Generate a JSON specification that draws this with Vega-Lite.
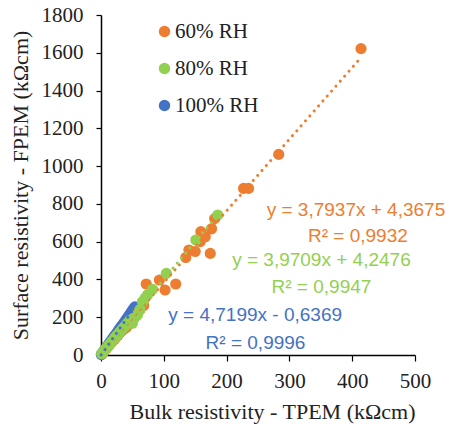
{
  "$schema": "https://vega.github.io/schema/vega-lite/v6.json",
  "width": 314,
  "height": 340,
  "autosize": {"type": "none"},
  "padding": {"left": 101, "top": 15, "right": 37, "bottom": 69},
  "background": "white",
  "config": {"view": {"stroke": null}, "axis": {"labelFont": "Liberation Serif", "titleFont": "Liberation Serif"}},
  "datasets": {
    "points": [
      {"series": "60% RH", "x": 2, "y": 9}, {"series": "60% RH", "x": 4, "y": 17}, {"series": "60% RH", "x": 6, "y": 26},
      {"series": "60% RH", "x": 9, "y": 36}, {"series": "60% RH", "x": 12, "y": 48}, {"series": "60% RH", "x": 15, "y": 60},
      {"series": "60% RH", "x": 18, "y": 72}, {"series": "60% RH", "x": 21, "y": 82}, {"series": "60% RH", "x": 24, "y": 95},
      {"series": "60% RH", "x": 27, "y": 104}, {"series": "60% RH", "x": 30, "y": 118}, {"series": "60% RH", "x": 33, "y": 128},
      {"series": "60% RH", "x": 36, "y": 136}, {"series": "60% RH", "x": 40, "y": 145}, {"series": "60% RH", "x": 43, "y": 158},
      {"series": "60% RH", "x": 47, "y": 172}, {"series": "60% RH", "x": 52, "y": 195}, {"series": "60% RH", "x": 57, "y": 215},
      {"series": "60% RH", "x": 62, "y": 240}, {"series": "60% RH", "x": 68, "y": 262}, {"series": "60% RH", "x": 72, "y": 376},
      {"series": "60% RH", "x": 93, "y": 397}, {"series": "60% RH", "x": 102, "y": 344}, {"series": "60% RH", "x": 119, "y": 376},
      {"series": "60% RH", "x": 135, "y": 516}, {"series": "60% RH", "x": 140, "y": 556}, {"series": "60% RH", "x": 150, "y": 548},
      {"series": "60% RH", "x": 158, "y": 600}, {"series": "60% RH", "x": 159, "y": 653}, {"series": "60% RH", "x": 166, "y": 626},
      {"series": "60% RH", "x": 176, "y": 668}, {"series": "60% RH", "x": 181, "y": 722}, {"series": "60% RH", "x": 174, "y": 538},
      {"series": "60% RH", "x": 227, "y": 882}, {"series": "60% RH", "x": 235, "y": 882}, {"series": "60% RH", "x": 283, "y": 1062},
      {"series": "60% RH", "x": 414, "y": 1622},
      {"series": "80% RH", "x": 1, "y": 6}, {"series": "80% RH", "x": 3, "y": 14}, {"series": "80% RH", "x": 5, "y": 24},
      {"series": "80% RH", "x": 8, "y": 34}, {"series": "80% RH", "x": 11, "y": 46}, {"series": "80% RH", "x": 14, "y": 58},
      {"series": "80% RH", "x": 18, "y": 74}, {"series": "80% RH", "x": 22, "y": 92}, {"series": "80% RH", "x": 26, "y": 106},
      {"series": "80% RH", "x": 30, "y": 122}, {"series": "80% RH", "x": 34, "y": 138}, {"series": "80% RH", "x": 38, "y": 152},
      {"series": "80% RH", "x": 42, "y": 168}, {"series": "80% RH", "x": 46, "y": 184}, {"series": "80% RH", "x": 50, "y": 168},
      {"series": "80% RH", "x": 54, "y": 200}, {"series": "80% RH", "x": 58, "y": 212}, {"series": "80% RH", "x": 62, "y": 240},
      {"series": "80% RH", "x": 66, "y": 282}, {"series": "80% RH", "x": 70, "y": 300}, {"series": "80% RH", "x": 74, "y": 318},
      {"series": "80% RH", "x": 82, "y": 348}, {"series": "80% RH", "x": 104, "y": 432}, {"series": "80% RH", "x": 151, "y": 609},
      {"series": "80% RH", "x": 186, "y": 741},
      {"series": "100% RH", "x": 0.5, "y": 2}, {"series": "100% RH", "x": 1, "y": 4}, {"series": "100% RH", "x": 2, "y": 9},
      {"series": "100% RH", "x": 3, "y": 13}, {"series": "100% RH", "x": 4, "y": 18}, {"series": "100% RH", "x": 5, "y": 22},
      {"series": "100% RH", "x": 6, "y": 28}, {"series": "100% RH", "x": 8, "y": 37}, {"series": "100% RH", "x": 10, "y": 47},
      {"series": "100% RH", "x": 12, "y": 56}, {"series": "100% RH", "x": 14, "y": 65}, {"series": "100% RH", "x": 16, "y": 75},
      {"series": "100% RH", "x": 18, "y": 84}, {"series": "100% RH", "x": 20, "y": 94}, {"series": "100% RH", "x": 22, "y": 103},
      {"series": "100% RH", "x": 25, "y": 117}, {"series": "100% RH", "x": 28, "y": 131}, {"series": "100% RH", "x": 30, "y": 141},
      {"series": "100% RH", "x": 33, "y": 155}, {"series": "100% RH", "x": 36, "y": 168}, {"series": "100% RH", "x": 39, "y": 183},
      {"series": "100% RH", "x": 42, "y": 197}, {"series": "100% RH", "x": 45, "y": 212}, {"series": "100% RH", "x": 48, "y": 226},
      {"series": "100% RH", "x": 50, "y": 236}, {"series": "100% RH", "x": 52, "y": 245}, {"series": "100% RH", "x": 54, "y": 255}
    ],
    "trends": [
      {"series": "60% RH", "x": 0, "y": 4.37}, {"series": "60% RH", "x": 414, "y": 1575},
      {"series": "80% RH", "x": 0, "y": 4.25}, {"series": "80% RH", "x": 186, "y": 742.8},
      {"series": "100% RH", "x": 0.2, "y": 0.3}, {"series": "100% RH", "x": 54, "y": 254.2}
    ],
    "labels": [
      {"series": "60% RH", "x": 406, "y": 768, "text": "y = 3,7937x + 4,3675"},
      {"series": "60% RH", "x": 409, "y": 630, "text": "R² = 0,9932"},
      {"series": "80% RH", "x": 351, "y": 503, "text": "y = 3,9709x + 4,2476"},
      {"series": "80% RH", "x": 351, "y": 358, "text": "R² = 0,9947"},
      {"series": "100% RH", "x": 245.5, "y": 212, "text": "y = 4,7199x - 0,6369"},
      {"series": "100% RH", "x": 246, "y": 65, "text": "R² = 0,9996"}
    ]
  },
  "encoding": {
    "x": {
      "field": "x", "type": "quantitative",
      "scale": {"domain": [0, 500], "nice": false, "zero": false},
      "axis": {
        "title": "Bulk resistivity - TPEM (kΩcm)",
        "values": [0, 100, 200, 300, 400, 500], "format": "d",
        "grid": false, "domainColor": "black", "domainWidth": 1.5,
        "tickColor": "black", "tickSize": 6, "tickWidth": 1.2,
        "labelFont": "Liberation Serif", "labelFontSize": 21, "labelColor": "#222222",
        "labelPadding": 9, "labelFlush": false, "labelOverlap": false,
        "titleFont": "Liberation Serif", "titleFontSize": 22, "titleFontWeight": "normal", "titleColor": "#222222",
        "titleX": 171, "titleY": 63, "titleBaseline": "alphabetic", "titleAlign": "center"
      }
    },
    "y": {
      "field": "y", "type": "quantitative",
      "scale": {"domain": [0, 1800], "nice": false, "zero": false},
      "axis": {
        "title": "Surface resistivity - FPEM (kΩcm)",
        "values": [0, 200, 400, 600, 800, 1000, 1200, 1400, 1600, 1800], "format": "d",
        "grid": false, "domainColor": "black", "domainWidth": 1.5,
        "tickColor": "black", "tickSize": 5, "tickWidth": 1.2,
        "labelFont": "Liberation Serif", "labelFontSize": 21, "labelColor": "#222222",
        "labelPadding": 13, "labelFlush": false, "labelOverlap": false,
        "titleFont": "Liberation Serif", "titleFontSize": 22, "titleFontWeight": "normal", "titleColor": "#222222",
        "titleAngle": 270, "titleX": -81, "titleY": 170, "titleBaseline": "middle", "titleAlign": "center"
      }
    },
    "color": {
      "field": "series", "type": "nominal",
      "scale": {"domain": ["60% RH", "80% RH", "100% RH"], "range": ["#ED7D31", "#92D050", "#4472C4"]}
    }
  },
  "layer": [
    {
      "data": {"name": "points"},
      "mark": {"type": "point", "shape": "circle", "filled": true, "opacity": 1, "size": 125},
      "encoding": {
        "color": {
          "field": "series", "type": "nominal",
          "scale": {"domain": ["60% RH", "80% RH", "100% RH"], "range": ["#ED7D31", "#92D050", "#4472C4"]},
          "legend": {
            "title": null, "orient": "none", "legendX": 53, "legendY": 6,
            "labelFont": "Liberation Serif", "labelFontSize": 21, "labelColor": "#222222",
            "symbolType": "circle", "symbolSize": 130, "symbolStrokeWidth": 0,
            "rowPadding": 15, "labelOffset": 0, "padding": 0
          }
        },
        "order": {"field": "series", "sort": "ascending"}
      }
    },
    {
      "data": {"name": "trends"},
      "mark": {"type": "line", "strokeDash": [0.1, 6.5], "strokeCap": "round", "strokeWidth": 3},
      "encoding": {"detail": {"field": "series"}}
    },
    {
      "data": {"name": "labels"},
      "mark": {"type": "text", "font": "Liberation Sans", "fontSize": 19, "align": "center", "baseline": "middle"},
      "encoding": {"text": {"field": "text"}}
    }
  ]
}
